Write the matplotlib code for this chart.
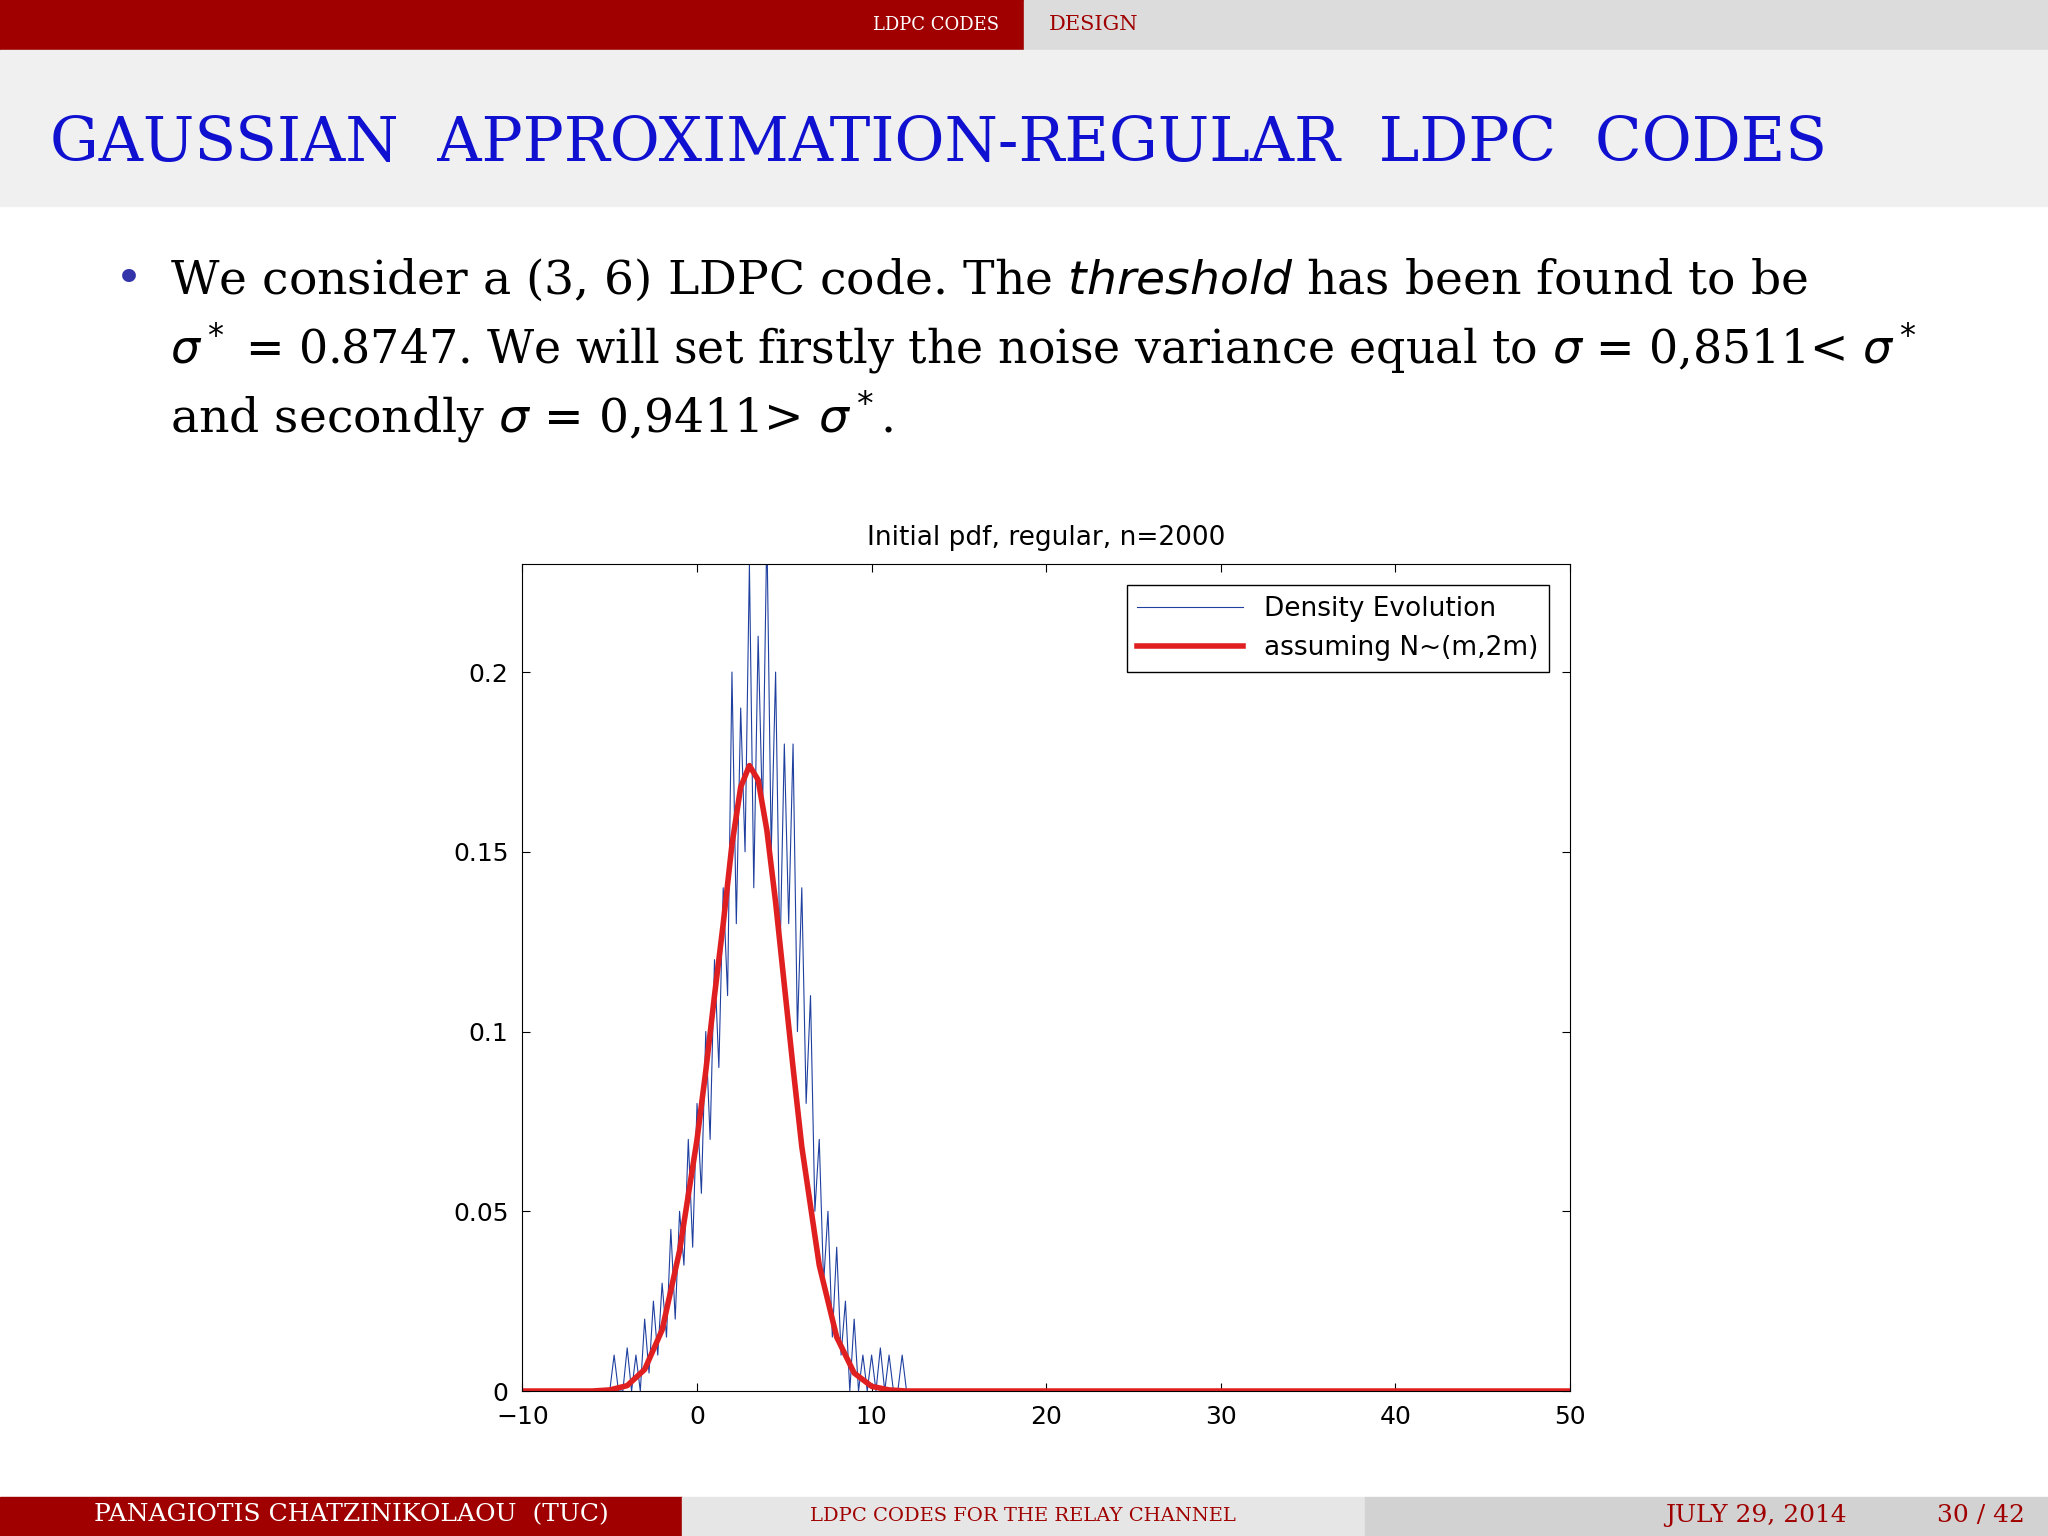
import numpy as np
import matplotlib.pyplot as plt

# density evolution (noisy), x from -5 to 12.5 step 0.25
de_x = np.arange(-5, 12.51, 0.25)
de_y = [0.0, 0.01, 0.0, 0.0, 0.012, 0.0, 0.01, 0.0, 0.02, 0.005, 0.025, 0.01,
        0.03, 0.015, 0.045, 0.02, 0.05, 0.035, 0.07, 0.04, 0.08, 0.055, 0.1, 0.07,
        0.12, 0.09, 0.14, 0.11, 0.2, 0.13, 0.19, 0.15, 0.23, 0.14, 0.21, 0.16,
        0.24, 0.15, 0.2, 0.12, 0.18, 0.13, 0.18, 0.1, 0.14, 0.08, 0.11, 0.05,
        0.07, 0.03, 0.05, 0.015, 0.04, 0.01, 0.025, 0.0, 0.02, 0.0, 0.01, 0.0,
        0.01, 0.0, 0.012, 0.0, 0.01, 0.0, 0.0, 0.01, 0.0, 0.0, 0.0]
de_x = np.concatenate([[-10], de_x, [50]])
de_y = [0.0] + de_y + [0.0]

# gaussian approximation
ga_x = [-10, -6, -5, -4, -3, -2, -1, 0, 0.5, 1, 1.5, 2, 2.5, 3, 3.5, 4, 4.5, 5,
        5.5, 6, 7, 8, 9, 10, 11, 12, 50]
ga_y = [0, 0, 0.0003, 0.0015, 0.006, 0.017, 0.039, 0.07, 0.089, 0.11, 0.13,
        0.152, 0.168, 0.174, 0.17, 0.156, 0.136, 0.113, 0.09, 0.068, 0.035,
        0.015, 0.005, 0.0013, 0.0003, 0.0, 0.0]

W, H = 1568, 1176
fig = plt.figure(figsize=(20.48, 15.36), dpi=100)

def box(x0, y0, x1, y1, c):
    fig.patches.append(plt.Rectangle((x0 / W, 1 - y1 / H), (x1 - x0) / W, (y1 - y0) / H,
                                     transform=fig.transFigure, color=c, zorder=0))

red = '#a00000'
box(0, 0, 784, 38, red)
box(784, 0, W, 38, '#dcdcdc')
box(0, 38, W, 158, '#f0f0f0')
box(0, 1146, 522, 1176, red)
box(522, 1146, 1045, 1176, '#e6e6e6')
box(1045, 1146, W, 1176, '#d2d2d2')

def t(x, y, s, **kw):
    fig.text(x / W, 1 - y / H, s, va='center', family='DejaVu Serif', **kw)

t(765, 19, 'LDPC CODES', ha='right', color='white', fontsize=13)
t(803, 19, 'DESIGN', color=red, fontsize=15)
t(38, 110, 'GAUSSIAN  APPROXIMATION-REGULAR  LDPC  CODES', color='#1010d0', fontsize=44)
fig.text(88 / W, 1 - 215 / H, '\u2022', color='#3333aa', fontsize=34, va='center')
t(130, 215, r'We consider a (3, 6) LDPC code. The $\it{threshold}$ has been found to be', fontsize=34)
t(130, 267, r'$\sigma^*$ = 0.8747. We will set firstly the noise variance equal to $\sigma$ = 0,8511< $\sigma^*$', fontsize=33)
t(130, 319, r'and secondly $\sigma$ = 0,9411> $\sigma^*$.', fontsize=34)
t(72, 1160, 'PANAGIOTIS CHATZINIKOLAOU  (TUC)', color='white', fontsize=18)
t(783, 1161, 'LDPC CODES FOR THE RELAY CHANNEL', ha='center', color=red, fontsize=14)
t(1275, 1160, 'JULY 29, 2014', color=red, fontsize=18)
t(1550, 1160, '30 / 42', ha='right', color=red, fontsize=18)

ax = fig.add_axes([400 / W, 1 - 1065 / H, 802 / W, 633 / H])
ax.plot(de_x, de_y, color='#2040a0', lw=0.8, label='Density Evolution')
ax.plot(ga_x, ga_y, color='#e02020', lw=4, label='assuming N~(m,2m)')
ax.set_xlim(-10, 50)
ax.set_ylim(0, 0.23)
ax.set_xticks(range(-10, 51, 10))
ax.set_xticklabels(['\u221210', '0', '10', '20', '30', '40', '50'])
ax.set_yticks([0, 0.05, 0.1, 0.15, 0.2])
ax.set_yticklabels(['0', '0.05', '0.1', '0.15', '0.2'])
ax.tick_params(direction='in', top=True, right=True, labelsize=18, length=6, pad=10)
ax.set_title('Initial pdf, regular, n=2000', fontsize=19, pad=14)
ax.legend(loc='upper right', fontsize=19, fancybox=False, edgecolor='black',
          framealpha=1, handlelength=4, borderaxespad=0.8)
fig.savefig('out.png')
